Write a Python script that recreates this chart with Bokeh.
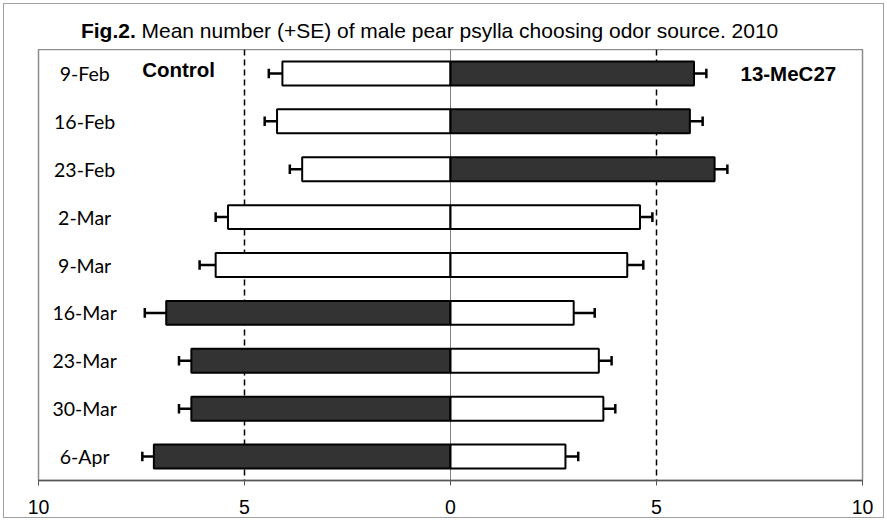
from bokeh.plotting import figure
from bokeh.layouts import column
from bokeh.models import Range1d, FixedTicker, Span, ColumnDataSource
from bokeh.core.properties import value
from bokeh.embed import file_html
from bokeh.resources import INLINE

# ---- data ----
dates = ["9-Feb", "16-Feb", "23-Feb", "2-Mar", "9-Mar", "16-Mar", "23-Mar", "30-Mar", "6-Apr"]
control_mean = [4.08, 4.21, 3.60, 5.40, 5.70, 6.90, 6.29, 6.29, 7.20]
control_se = [0.33, 0.30, 0.30, 0.30, 0.39, 0.52, 0.30, 0.30, 0.28]
treat_mean = [5.91, 5.81, 6.41, 4.60, 4.29, 2.99, 3.60, 3.71, 2.79]
treat_se = [0.30, 0.31, 0.31, 0.30, 0.39, 0.51, 0.31, 0.29, 0.31]
preferred = ["13-MeC27", "13-MeC27", "13-MeC27", "none", "none",
             "Control", "Control", "Control", "Control"]
x_ticks = [-10, -5, 0, 5, 10]
x_tick_labels = ["10", "5", "0", "5", "10"]
left_label = "Control"
right_label = "13-MeC27"
title_bold = "Fig.2."
title_rest = "Mean number (+SE) of male pear psylla choosing odor source. 2010"

DARK = "#333333"
W, H_TITLE, H_MAIN = 887, 49, 472
ys = list(range(1, len(dates) + 1))

# ---- main chart ----
p = figure(width=W, height=H_MAIN, output_backend="svg", toolbar_location=None,
           x_range=Range1d(-10, 10), y_range=Range1d(len(dates) + 0.5, 0.5),
           y_axis_location=None, min_border_left=38, min_border_right=25,
           min_border_top=0, min_border_bottom=41)
p.grid.visible = False
p.outline_line_color = "#8c8c8c"
p.outline_line_width = 1.5
p.background_fill_color = "white"
p.border_fill_color = None

# ---- title strip (frame aligned with the chart frame, shares its x scale) ----
pt = figure(width=W, height=H_TITLE, output_backend="svg", toolbar_location=None,
            x_range=p.x_range, y_range=Range1d(H_TITLE, 0),
            x_axis_location=None, y_axis_location=None,
            min_border_left=38, min_border_right=25, min_border_top=0, min_border_bottom=0)
pt.grid.visible = False
pt.outline_line_color = None
pt.background_fill_color = None
pt.border_fill_color = None
pt.text(x=[-8.97], y=[30], text=[title_bold], text_align="left", text_baseline="alphabetic",
        text_font=value("Liberation Sans"), text_font_size="21px", text_font_style="bold")
pt.text(x=[-7.50], y=[30], text=[title_rest], text_align="left", text_baseline="alphabetic",
        text_font=value("Liberation Sans"), text_font_size="21px")

p.add_layout(Span(location=0, dimension="height", line_color="#808080", line_width=1, level="underlay"))
for loc in (-5, 5):
    p.add_layout(Span(location=loc, dimension="height", line_color="black",
                      line_width=1.5, line_dash="6 4", level="underlay"))

ctrl_fill = [DARK if s == "Control" else "white" for s in preferred]
trt_fill = [DARK if s == "13-MeC27" else "white" for s in preferred]
neg_ctrl = [-m for m in control_mean]
ctrl_err = [-(m + e) for m, e in zip(control_mean, control_se)]
trt_err = [m + e for m, e in zip(treat_mean, treat_se)]

src = ColumnDataSource(dict(y=ys, nc=neg_ctrl, ce=ctrl_err, tm=treat_mean, te=trt_err,
                            cf=ctrl_fill, tf=trt_fill, zero=[0] * len(ys),
                            y0=[y - 0.1 for y in ys], y1=[y + 0.1 for y in ys]))

p.segment(x0="nc", y0="y", x1="ce", y1="y", source=src, line_color="black", line_width=2.5)
p.segment(x0="ce", y0="y0", x1="ce", y1="y1", source=src, line_color="black", line_width=2.5)
p.segment(x0="tm", y0="y", x1="te", y1="y", source=src, line_color="black", line_width=2.5)
p.segment(x0="te", y0="y0", x1="te", y1="y1", source=src, line_color="black", line_width=2.5)

p.hbar(y="y", left="nc", right="zero", height=0.5, source=src, fill_color="cf",
       line_color="black", line_width=2)
p.hbar(y="y", left="zero", right="tm", height=0.5, source=src, fill_color="tf",
       line_color="black", line_width=2)

p.text(x=[-8.88] * len(ys), y=ys, text=dates, text_align="center", text_baseline="middle",
       text_font=value("Lato"), text_font_size="19.5px", text_color="black")

p.text(x=[-6.60], y=[0.918], text=[left_label], text_align="center", text_baseline="alphabetic",
       text_font=value("Liberation Sans"), text_font_size="20.5px", text_font_style="bold")
p.text(x=[8.20], y=[1.0], text=[right_label], text_align="center", text_baseline="alphabetic",
       text_font=value("Liberation Sans"), text_font_size="20.5px", text_font_style="bold")

ax = p.xaxis[0]
ax.ticker = FixedTicker(ticks=x_ticks)
ax.major_label_overrides = {t: l for t, l in zip(x_ticks, x_tick_labels)}
ax.minor_tick_line_color = None
ax.major_tick_in = 0
ax.major_tick_out = 5
ax.axis_line_color = "#555555"
ax.axis_line_width = 1.5
ax.major_tick_line_color = "#555555"
ax.major_label_standoff = 14
ax.major_label_text_font = "Liberation Sans"
ax.major_label_text_font_size = "19.5px"
ax.major_label_text_color = "black"

layout = column(pt, p, spacing=0,
                styles={"outline": "1.5px solid #a0a0a0", "outline-offset": "-4px",
                        "background-color": "white"})

open("out.html", "w").write(file_html(layout, INLINE))
